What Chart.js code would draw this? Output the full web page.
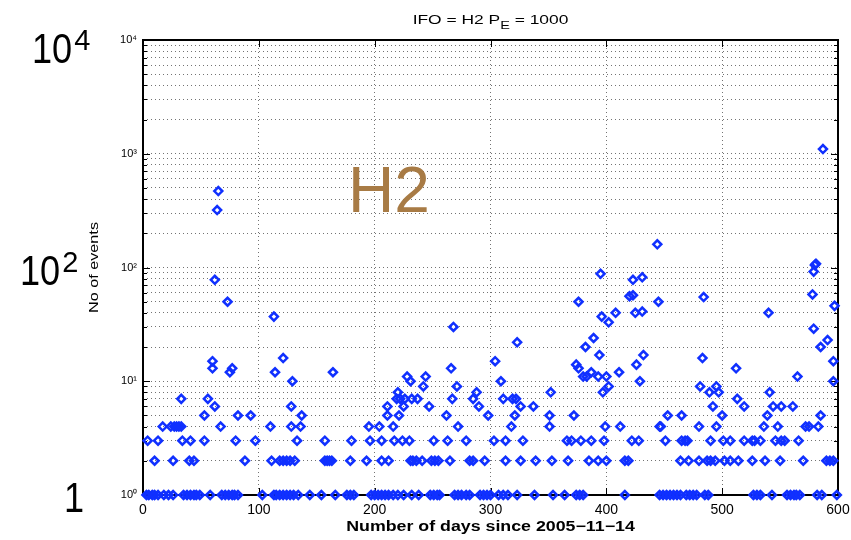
<!DOCTYPE html>
<html>
<head>
<meta charset="utf-8">
<script src="https://cdn.jsdelivr.net/npm/chart.js@4.4.1/dist/chart.umd.min.js"></script>
<style>
  html, body { margin: 0; padding: 0; background: #fff; }
  #wrap { width: 851px; height: 540px; }
</style>
</head>
<body>
<div id="wrap"><canvas id="events-chart" width="851" height="540"></canvas></div>
<script>
"use strict";

//=> Data: days grouped by event count
var daysWith1 = [3, 5, 8, 10, 13, 18, 22, 26, 35, 38, 41, 44, 46, 49, 58, 68, 71, 74, 77, 79,
    82, 103, 113, 115, 118, 121, 124, 127, 130, 134, 144, 154, 166, 176, 179, 182, 197, 200, 203, 206,
    209, 212, 216, 220, 225, 232, 238, 248, 251, 254, 256, 269, 272, 275, 279, 282, 291, 294, 297, 300,
    307, 311, 315, 323, 338, 354, 364, 374, 377, 380, 416, 446, 449, 452, 455, 458, 461, 464, 469, 472,
    475, 478, 485, 488, 527, 530, 533, 543, 556, 559, 562, 564, 567, 582, 586, 599];
var daysWith2 = [10, 26, 40, 44, 88, 111, 118, 121, 124, 127, 131, 157, 159, 161, 163, 179, 193, 206,
    212, 231, 233, 236, 241, 249, 252, 255, 265, 282, 285, 295, 313, 326, 339, 353, 367, 385, 393, 400,
    416, 419, 464, 471, 480, 487, 490, 494, 502, 507, 514, 526, 537, 550, 570, 590, 593, 596];
var daysWith3 = [4, 13, 34, 41, 53, 80, 97, 133, 157, 180, 196, 206, 217, 224, 230, 251, 263, 279,
    303, 313, 328, 366, 370, 378, 387, 398, 422, 428, 451, 465, 468, 470, 490, 501, 507, 519, 526, 528,
    533, 546, 551, 554, 566];
var daysWith4 = [17, 24, 27, 29, 31, 33, 67, 110, 128, 136, 195, 204, 216, 272, 318, 351, 399, 412,
    446, 447, 480, 495, 536, 548, 572, 575, 583];
var daysWith5 = [53, 82, 93, 137, 211, 221, 262, 298, 321, 351, 372, 453, 465, 500, 539, 585];
var daysWith6 = [62, 128, 211, 225, 247, 290, 326, 337, 492, 519, 544, 551, 561];
var daysWith7 = [33, 56, 219, 222, 226, 232, 237, 267, 285, 311, 319, 322, 513];

// everything above 7 events
var otherDays = [220, 288, 352, 397, 489, 497, 541,
    242, 271, 402, 481, 495,
    129, 231, 309, 429, 596,
    228, 244, 380, 383, 393, 400, 565,
    75, 114, 164, 387, 411,
    60, 77, 266, 376, 512,
    374, 426, 60, 304, 596, 121, 483, 394, 432, 382, 585, 323, 591, 389, 579, 268, 402,
    113, 396, 408, 425, 540, 431, 597, 73, 376, 445, 484, 420, 423, 578,
    62, 423, 431, 395, 579, 580, 581, 444, 64, 65, 587];
var otherEvents = [8, 8, 8, 8, 8, 8, 8,
    9, 9, 9, 9, 9,
    10, 10, 10, 10, 10,
    11, 11, 11, 11, 11, 11, 11,
    12, 12, 12, 12, 12,
    13, 13, 13, 13, 13,
    14, 14, 15, 15, 15, 16, 16, 17, 17, 20, 20, 22, 23, 24, 29, 30, 33,
    37, 37, 40, 40, 40, 41, 46, 50, 50, 50, 55, 56, 57, 58,
    78, 78, 82, 88, 92, 105, 108, 160, 320, 470, 1100];

var xTickValues = [0, 100, 200, 300, 400, 500, 600];
var yTickValues = [1, 2, 3, 4, 5, 6, 7, 8, 9, 10, 20, 30, 40, 50, 60, 70, 80, 90,
    100, 200, 300, 400, 500, 600, 700, 800, 900, 1000, 2000, 3000, 4000, 5000, 6000, 7000, 8000, 9000, 10000];
var yTickLabels = { 1: '10\u2070', 10: '10\u00b9', 100: '10\u00b2', 1000: '10\u00b3', 10000: '10\u2074' };

//=> Class definition
var EventsChart = function () {
    var FONT = "'Liberation Sans', Arial, Helvetica, sans-serif";
    var BLUE = '#1030ff';

    var buildPoints = function () {
        var pts = [];
        var levels = [[1, daysWith1], [2, daysWith2], [3, daysWith3], [4, daysWith4],
            [5, daysWith5], [6, daysWith6], [7, daysWith7]];
        levels.forEach(function (lv) {
            lv[1].forEach(function (d) { pts.push({ x: d, y: lv[0] }); });
        });
        otherDays.forEach(function (d, i) { pts.push({ x: d, y: otherEvents[i] }); });
        return pts;
    };

    // text stretched sideways, like the printed original
    var wideText = function (ctx, txt, cx, cy, font, sx) {
        ctx.save();
        ctx.font = font;
        ctx.textAlign = 'center';
        ctx.textBaseline = 'middle';
        ctx.translate(cx, cy);
        ctx.scale(sx, 1);
        ctx.fillText(txt, 0, 0);
        ctx.restore();
    };

    // condensed "10" with a raised exponent
    var drawPower = function (ctx, exp, x, y, size) {
        ctx.save();
        ctx.textAlign = 'left';
        ctx.textBaseline = 'alphabetic';
        ctx.font = size + 'px ' + FONT;
        var w = ctx.measureText('10').width * 0.84;
        ctx.translate(x, y);
        ctx.save();
        ctx.scale(0.84, 1);
        ctx.fillText('10', 0, 0);
        ctx.restore();
        ctx.font = Math.round(size * 0.68) + 'px ' + FONT;
        ctx.fillText(exp, w + 2, -13);
        ctx.restore();
    };

    var frame = {
        id: 'frame',
        beforeDatasetsDraw: function (chart) {
            var ctx = chart.ctx, a = chart.chartArea;
            var ys = chart.scales.y, xs = chart.scales.x;
            ctx.save();
            ctx.strokeStyle = '#000';
            ctx.lineWidth = 1;
            ctx.beginPath();
            ys.ticks.forEach(function (t) {
                var py = Math.round(ys.getPixelForValue(t.value)) + 0.5;
                var len = yTickLabels[t.value] ? 7 : 4;
                ctx.moveTo(a.left, py); ctx.lineTo(a.left + len, py);
                ctx.moveTo(a.right, py); ctx.lineTo(a.right - len, py);
            });
            xs.ticks.forEach(function (t) {
                var px = Math.round(xs.getPixelForValue(t.value)) + 0.5;
                ctx.moveTo(px, a.bottom); ctx.lineTo(px, a.bottom - 7);
                ctx.moveTo(px, a.top); ctx.lineTo(px, a.top + 7);
            });
            ctx.stroke();
            ctx.lineWidth = 2;
            ctx.strokeRect(a.left, a.top, a.right - a.left, a.bottom - a.top);
            ctx.restore();
        },
        afterDraw: function (chart) {
            var ctx = chart.ctx, a = chart.chartArea;
            var midX = (a.left + a.right) / 2;
            ctx.save();
            ctx.fillStyle = '#000';

            // title with subscript, stretched
            ctx.save();
            ctx.translate(midX, 0);
            ctx.scale(1.45, 1);
            var p1 = 'IFO = H2 P', sub = 'E', p2 = ' = 1000';
            ctx.font = '12px ' + FONT;
            var w1 = ctx.measureText(p1).width, w3 = ctx.measureText(p2).width;
            ctx.font = '10px ' + FONT;
            var w2 = ctx.measureText(sub).width;
            var tx = -(w1 + w2 + w3) / 2;
            ctx.textBaseline = 'alphabetic';
            ctx.textAlign = 'left';
            ctx.font = '12px ' + FONT;
            ctx.fillText(p1, tx, 24);
            ctx.font = '10px ' + FONT;
            ctx.fillText(sub, tx + w1, 29);
            ctx.font = '12px ' + FONT;
            ctx.fillText(p2, tx + w1 + w2, 24);
            ctx.restore();

            // axis titles
            wideText(ctx, 'Number of days since 2005\u221211\u221214', midX, 527, 'bold 14px ' + FONT, 1.27);
            ctx.save();
            ctx.translate(95, (a.top + a.bottom) / 2);
            ctx.rotate(-Math.PI / 2);
            wideText(ctx, 'No of events', 0, 0, '12px ' + FONT, 1.35);
            ctx.restore();

            // big labels in the margin
            drawPower(ctx, '4', 32, 63, 43);
            drawPower(ctx, '2', 20, 285, 43);
            ctx.save();
            ctx.translate(64, 512);
            ctx.scale(0.84, 1);
            ctx.font = '43px ' + FONT;
            ctx.textAlign = 'left';
            ctx.textBaseline = 'alphabetic';
            ctx.fillText('1', 0, 0);
            ctx.restore();

            // detector tag
            ctx.fillStyle = '#a87b45';
            ctx.font = '64px ' + FONT;
            ctx.textAlign = 'left';
            ctx.textBaseline = 'alphabetic';
            ctx.fillText('H2', 348, 212);
            ctx.restore();
        }
    };

    var initChart = function () {
        var ctx = document.getElementById('events-chart').getContext('2d');
        var myChart = new Chart(ctx, {
            type: 'scatter',
            data: {
                datasets: [{
                    label: 'H2',
                    data: buildPoints(),
                    pointStyle: 'rectRot',
                    pointRadius: 4,
                    borderWidth: 2.5,
                    borderColor: BLUE,
                    backgroundColor: 'rgba(0,0,0,0)',
                    clip: false
                }]
            },
            options: {
                responsive: false,
                animation: false,
                layout: { padding: { top: 40, right: 13, left: 0, bottom: 0 } },
                plugins: {
                    legend: { display: false },
                    tooltip: { enabled: false }
                },
                scales: {
                    x: {
                        type: 'linear',
                        min: 0,
                        max: 600,
                        afterBuildTicks: function (s) {
                            s.ticks = xTickValues.map(function (v) { return { value: v }; });
                        },
                        afterFit: function (s) {
                            s.height = 45;
                            s.paddingLeft = 0;
                            s.paddingRight = 0;
                        },
                        ticks: {
                            color: '#000',
                            padding: 7,
                            maxRotation: 0,
                            autoSkip: false,
                            font: { family: FONT, size: 14 }
                        },
                        grid: { color: 'rgba(0,0,0,0.55)', lineWidth: 1, drawTicks: false },
                        border: { display: false, dash: [1, 3] }
                    },
                    y: {
                        type: 'logarithmic',
                        min: 1,
                        max: 10000,
                        afterBuildTicks: function (s) {
                            s.ticks = yTickValues.map(function (v) { return { value: v, major: !!yTickLabels[v] }; });
                        },
                        afterFit: function (s) {
                            s.width = 143;
                            s.paddingTop = 0;
                            s.paddingBottom = 0;
                        },
                        ticks: {
                            color: '#000',
                            padding: 6,
                            autoSkip: false,
                            font: { family: FONT, size: 11 },
                            callback: function (v) { return yTickLabels[v] || ''; }
                        },
                        grid: { color: 'rgba(0,0,0,0.55)', lineWidth: 1, drawTicks: false },
                        border: { display: false, dash: [1, 3] }
                    }
                }
            },
            plugins: [frame]
        });
    };

    return {
        //=> Init
        init: function () {
            initChart();
        }
    };
}();

//=> Class Initialization
document.addEventListener('DOMContentLoaded', function () {
    EventsChart.init();
});
</script>
</body>
</html>
